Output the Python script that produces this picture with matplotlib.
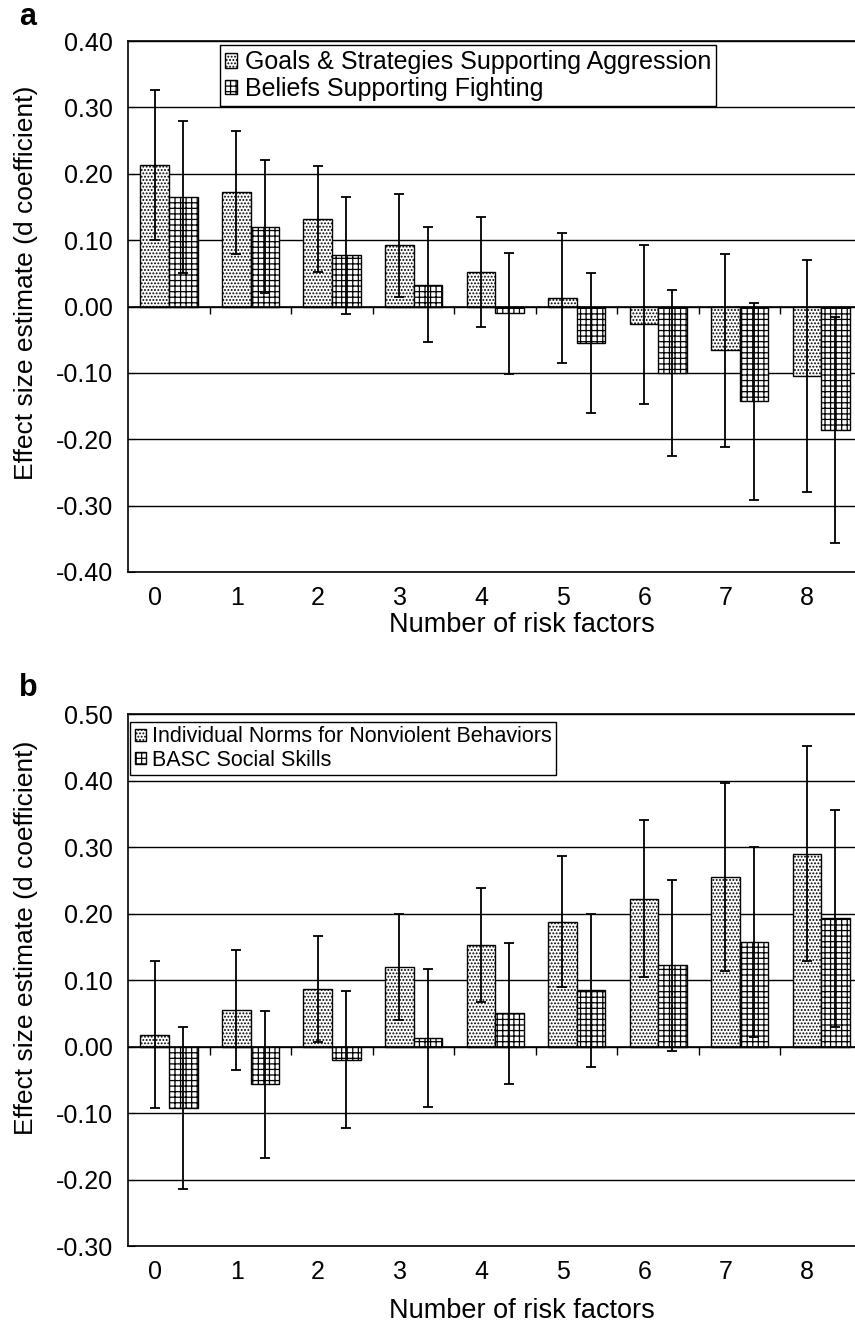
import numpy as np
import matplotlib
matplotlib.use('Agg')
import matplotlib.pyplot as plt

plt.rcParams['font.family'] = ['Liberation Sans', 'DejaVu Sans']
plt.rcParams['hatch.linewidth'] = 0.9

risk = [0, 1, 2, 3, 4, 5, 6, 7, 8]

# panel a
goals = [0.213, 0.172, 0.132, 0.092, 0.052, 0.013, -0.027, -0.066, -0.105]
goals_err = [0.113, 0.093, 0.080, 0.077, 0.083, 0.098, 0.120, 0.145, 0.175]
beliefs = [0.165, 0.120, 0.077, 0.033, -0.010, -0.055, -0.100, -0.143, -0.186]
beliefs_err = [0.115, 0.100, 0.088, 0.087, 0.091, 0.105, 0.125, 0.148, 0.170]

# panel b
norms = [0.018, 0.055, 0.087, 0.120, 0.153, 0.188, 0.222, 0.255, 0.290]
norms_err = [0.110, 0.090, 0.080, 0.080, 0.086, 0.098, 0.118, 0.142, 0.162]
basc = [-0.092, -0.057, -0.020, 0.013, 0.050, 0.085, 0.122, 0.157, 0.193]
basc_err = [0.122, 0.111, 0.103, 0.104, 0.106, 0.115, 0.128, 0.143, 0.163]

fig = plt.figure(figsize=(8.55, 13.28), dpi=100)

panels = [
    dict(rect=[0.150, 0.5693, 0.858, 0.3998], s1=goals, e1=goals_err, s2=beliefs, e2=beliefs_err,
         l1='Goals & Strategies Supporting Aggression', l2='Beliefs Supporting Fighting',
         ylim=(-0.40, 0.40), leg_box=(0.125, 0.992), leg_fs=18,
         xl=-0.075, yl=0.544, tag='a', tag_y=0.987),
    dict(rect=[0.150, 0.0617, 0.858, 0.4006], s1=norms, e1=norms_err, s2=basc, e2=basc_err,
         l1='Individual Norms for Nonviolent Behaviors', l2='BASC Social Skills',
         ylim=(-0.30, 0.50), leg_box=(0.003, 0.985), leg_fs=15.5,
         xl=-0.098, yl=0.58, tag='b', tag_y=0.482),
]

x = np.array(risk)
w = 0.35
for p in panels:
    ax = fig.add_axes(p['rect'])
    ax.set_axisbelow(True)
    ax.bar(x - w / 2, p['s1'], w, color='white', edgecolor='black', hatch='.....',
           linewidth=1.0, label=p['l1'])
    ax.bar(x + w / 2, p['s2'], w, color='white', edgecolor='black', hatch='+++',
           linewidth=1.0, label=p['l2'])
    ax.errorbar(x - w / 2, p['s1'], yerr=p['e1'], fmt='none', ecolor='black', elinewidth=1.3,
                capsize=3.5, capthick=1.3)
    ax.errorbar(x + w / 2, p['s2'], yerr=p['e2'], fmt='none', ecolor='black', elinewidth=1.3,
                capsize=3.5, capthick=1.3)

    lo, hi = p['ylim']
    ax.set_ylim(lo, hi)
    ax.set_xlim(-0.5, 8.5)
    ticks = np.round(np.arange(lo, hi + 0.001, 0.1), 2)
    ax.set_yticks(ticks)
    ax.set_yticklabels(['%.2f' % (0.0 if abs(t) < 1e-9 else t) for t in ticks])
    ax.yaxis.grid(True, color='black', linewidth=1.0)
    ax.axhline(0, color='black', linewidth=1.2)
    ax.vlines(np.arange(0.5, 8.5), -0.012, 0, color='black', linewidth=1.0)

    # category labels sit a little left of the bar pairs, as in the source
    ax.set_xticks(x - 0.17)
    ax.set_xticklabels([str(r) for r in risk])
    ax.tick_params(axis='x', length=0, labelsize=18, pad=10)
    ax.tick_params(axis='y', length=5, direction='in', labelsize=18, pad=11)
    for s in ax.spines.values():
        s.set_linewidth(1.2)

    ax.set_xlabel('Number of risk factors', fontsize=19.5)
    ax.set_ylabel('Effect size estimate (d coefficient)', fontsize=19)
    ax.xaxis.set_label_coords(0.536, p['xl'])
    ax.yaxis.set_label_coords(-0.123, p['yl'])

    leg = ax.legend(loc='upper left', bbox_to_anchor=p['leg_box'], fontsize=p['leg_fs'],
                    frameon=True, fancybox=False, edgecolor='black', framealpha=1,
                    handlelength=0.5, handleheight=0.5, handletextpad=0.3,
                    labelspacing=0.1, borderpad=0.2, borderaxespad=0.0)
    leg.get_frame().set_linewidth(1.0)

    fig.text(0.022, p['tag_y'], p['tag'], fontsize=22, fontweight='bold', va='center')

fig.savefig('out.png', dpi=100)
